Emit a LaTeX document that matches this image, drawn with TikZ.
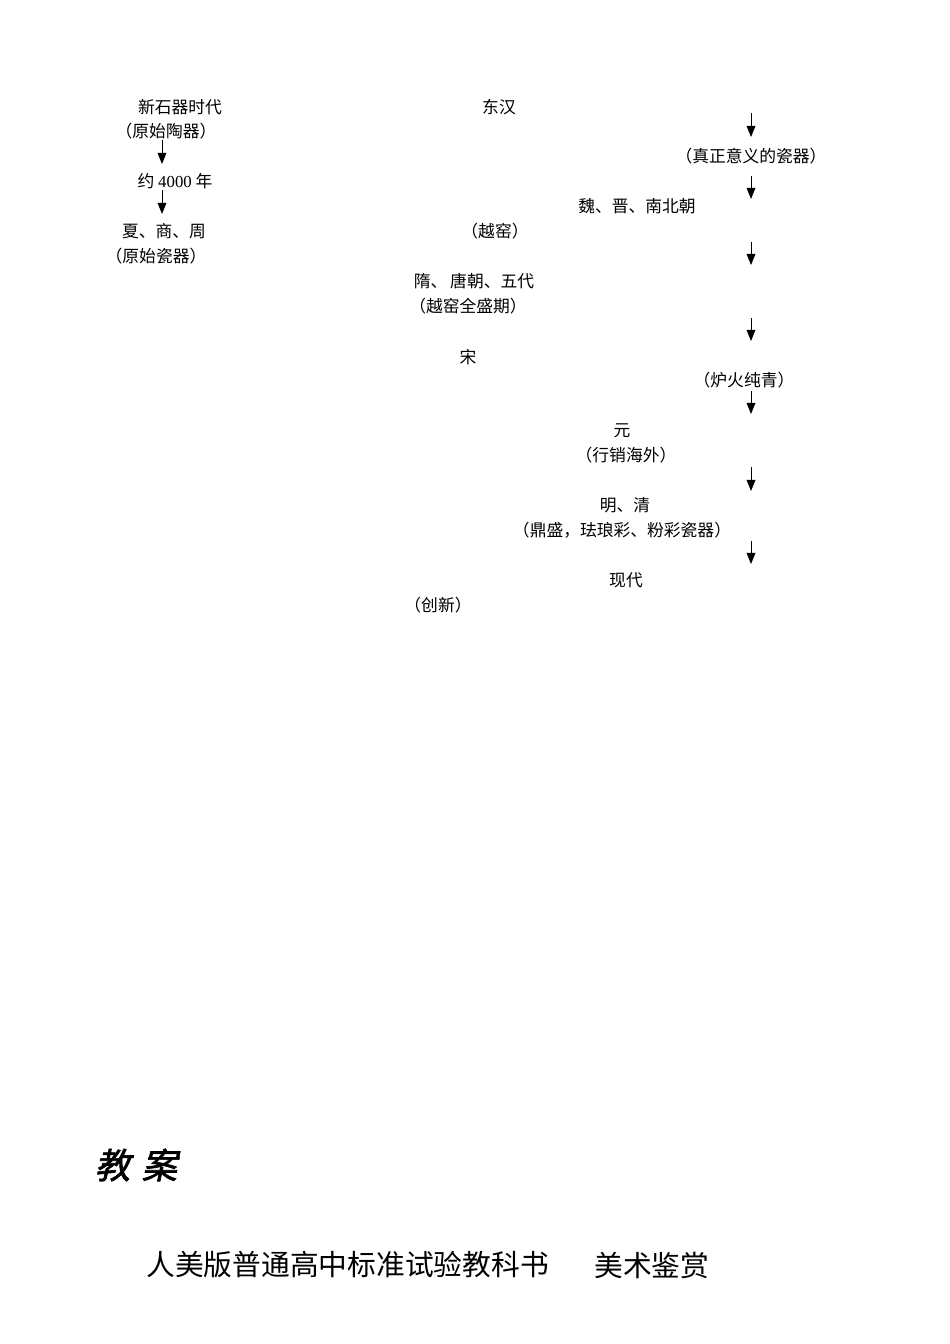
\documentclass[tikz,border=0pt]{standalone}
\usepackage{fontspec}
\usetikzlibrary{arrows.meta}
\setmainfont{Liberation Serif}
\newfontfamily\cjk{Noto Sans CJK SC}
\newfontfamily\cjkti[FakeSlant=0.22,FakeBold=2]{Noto Sans CJK SC}
\tikzset{
  lbl/.style={inner sep=0pt, font=\cjk\fontsize{10.5}{12}\selectfont},
  arr/.style={-{Triangle[width=5.5pt,length=7pt]}, line width=0.6pt},
  ttl/.style={inner sep=0pt, font=\cjkti\fontsize{22}{26}\selectfont},
  sub/.style={inner sep=0pt, anchor=west, font=\cjk\fontsize{18}{22}\selectfont}
}
\begin{document}
\begin{tikzpicture}[x=0.626pt,y=-0.626pt]
\useasboundingbox (0,0) rectangle (950,1344);
% left column
\node[lbl] (n1) at (180,107) {新石器时代};
\node[lbl] (n1b) at (166,131) {（原始陶器）};
\node[lbl] (n2) at (175,181) {约 {\rmfamily 4000} 年};
\node[lbl] (n3) at (164,231) {夏、商、周};
\node[lbl] (n3b) at (156,256) {（原始瓷器）};
\coordinate (la1) at (162,140); \coordinate (la2) at (162,164);
\coordinate (lb1) at (162,190); \coordinate (lb2) at (162,214);
\draw[arr] (la1) -- (la2);
\draw[arr] (lb1) -- (lb2);
% right column texts
\node[lbl] (e1) at (499,107) {东汉};
\node[lbl] (e1b) at (751,156) {（真正意义的瓷器）};
\node[lbl] (e2) at (637,206) {魏、晋、南北朝};
\node[lbl] (e2b) at (495,231) {（越窑）};
\node[lbl] (e3) at (474,281) {隋、\,唐朝、五代};
\node[lbl] (e3b) at (468,306) {（越窑全盛期）};
\node[lbl] (e4) at (468,357) {宋};
\node[lbl] (e4b) at (744,380) {（炉火纯青）};
\node[lbl] (e5) at (622,431) {元};
\node[lbl] (e5b) at (626,455) {（行销海外）};
\node[lbl] (e6) at (625,505) {明、清};
\node[lbl] (e6b) at (622,530) {（鼎盛，珐琅彩、粉彩瓷器）};
\node[lbl] (e7) at (626,580) {现代};
\node[lbl] (e7b) at (438,605) {（创新）};
% right column arrows
\foreach \i/\a/\b in {1/113/137, 2/176/199, 3/242/265, 4/318/341, 5/391/414, 6/467/491, 7/541/564}{
  \coordinate (ra\i) at (751,\a); \coordinate (rb\i) at (751,\b);
  \draw[arr] (ra\i) -- (rb\i);
}
% bottom
\node[ttl] (title) at (136,1165) {教\,\,案};
\node[sub] (book) at (146,1265) {人美版普通高中标准试验教科书};
\node[sub] (subj) at (594,1265) {美术鉴赏};
\end{tikzpicture}
\end{document}
